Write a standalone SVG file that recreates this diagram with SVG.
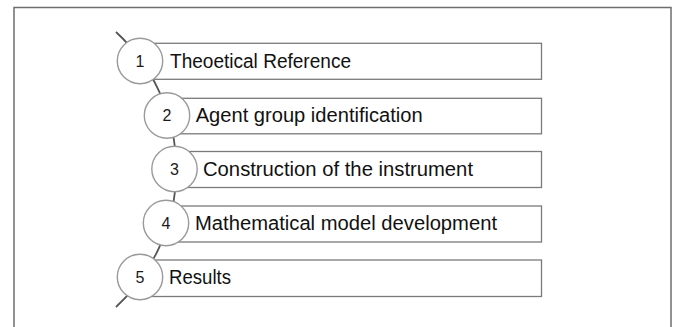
<svg xmlns="http://www.w3.org/2000/svg" width="674" height="327" viewBox="0 0 674 327">
<style>
.frame{fill:#fff;stroke:#6e6e6e;stroke-width:1.5}
.box{fill:#fff;stroke:#7a7a7a;stroke-width:1.3}
.circ{fill:#fff;stroke:#9a9a9a;stroke-width:1.4}
.lbl{font-family:"Liberation Sans",Arial,sans-serif;font-size:20px;fill:#111}
.num{font-family:"Liberation Sans",Arial,sans-serif;font-size:16px;fill:#1a1a1a;text-anchor:middle}
.arc{fill:none;stroke:#555;stroke-width:1.8}
</style>
<rect class="frame" x="14" y="7.5" width="657" height="340"/>
<g id="connectors">
<path class="arc" d="M 116 32 A 187 187 0 0 1 116 307"/>
</g>
<g id="node1">
<rect class="box" x="140" y="43.3" width="401.5" height="36"/>
<circle class="circ" cx="140" cy="61" r="22.7"/>
<text class="num" x="140" y="66.8">1</text>
<text class="lbl" x="170" y="68" textLength="181" lengthAdjust="spacingAndGlyphs">Theoetical Reference</text>
</g>
<g id="node2">
<rect class="box" x="167" y="98.3" width="374.5" height="35.5"/>
<circle class="circ" cx="167" cy="115.5" r="22.7"/>
<text class="num" x="167" y="121.3">2</text>
<text class="lbl" x="195.7" y="121.8" textLength="227" lengthAdjust="spacingAndGlyphs">Agent group identification</text>
</g>
<g id="node3">
<rect class="box" x="174.5" y="151.5" width="367" height="36"/>
<circle class="circ" cx="174.5" cy="169" r="22.7"/>
<text class="num" x="174.5" y="174.8">3</text>
<text class="lbl" x="203" y="175.8" textLength="270" lengthAdjust="spacingAndGlyphs">Construction of the instrument</text>
</g>
<g id="node4">
<rect class="box" x="166" y="206" width="375.5" height="36"/>
<circle class="circ" cx="166" cy="223" r="22.7"/>
<text class="num" x="166" y="228.8">4</text>
<text class="lbl" x="195" y="229.8" textLength="302" lengthAdjust="spacingAndGlyphs">Mathematical model development</text>
</g>
<g id="node5">
<rect class="box" x="140" y="260" width="401.5" height="36.5"/>
<circle class="circ" cx="140" cy="277" r="22.7"/>
<text class="num" x="140" y="282.8">5</text>
<text class="lbl" x="169" y="284" textLength="62" lengthAdjust="spacingAndGlyphs">Results</text>
</g>
</svg>
